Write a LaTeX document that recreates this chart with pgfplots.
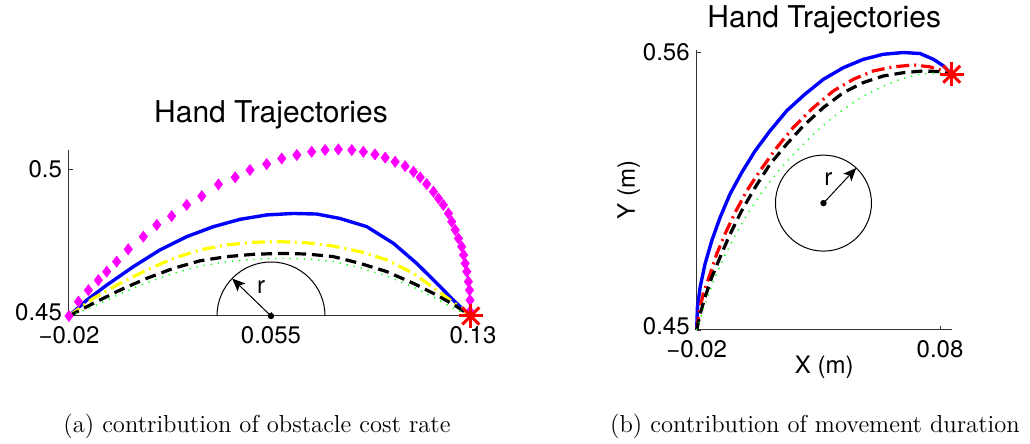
\documentclass[border=0pt]{standalone}
\usepackage{pgfplots}
\pgfplotsset{compat=1.18}
\usepackage{fontspec}
\newfontfamily\heros{TeX Gyre Heros}
\usetikzlibrary{arrows.meta,calc}
\definecolor{mblue}{rgb}{0,0,1}
\definecolor{myellow}{rgb}{1,1,0}
\definecolor{mgreen}{rgb}{0,1,0}
\definecolor{mmag}{rgb}{1,0,1}
\definecolor{mred}{rgb}{1,0,0}
\pgfplotsset{
  mstyle/.style={
    scale only axis, clip=false, scaled ticks=false,
    axis lines=left, axis line style={-, black!80, line width=0.5pt},
    tick align=inside, major tick length=2pt,
    tick style={black!80, line width=0.4pt},
    ticklabel style={font=\heros\fontsize{12}{14}\selectfont},
    xticklabel style={yshift=-1.5pt},
    label style={font=\heros\fontsize{12}{14}\selectfont},
    title style={font=\heros\fontsize{15}{18}\selectfont, at={(0.5,1)}, anchor=base},
  },
  blueline/.style={mblue, line width=1.7pt, no markers},
  dashdot/.style={line width=1.6pt, no markers, dash pattern=on 6.5pt off 2.5pt on 1pt off 2.5pt},
  blackdash/.style={black, line width=1.6pt, no markers, dash pattern=on 5.5pt off 3pt},
  greendot/.style={mgreen, line width=0.7pt, no markers, dash pattern=on 0.6pt off 3pt},
}
\begin{document}
\begin{tikzpicture}
\path[use as bounding box] (0,0) rectangle (515pt,222pt);
% ---------------- left ----------------
\begin{axis}[mstyle, at={(34.5pt,64pt)}, anchor=south west,
  width=202pt, height=83pt,
  xmin=-0.02, xmax=0.13, ymin=0.45, ymax=0.5065,
  xtick={-0.02,0.055,0.13}, xticklabels={−0.02,0.055,0.13},
  ytick={0.45,0.5}, yticklabels={\raisebox{4.5pt}{0.45},0.5},
  title={Hand Trajectories}, title style={yshift=8pt}]
\coordinate (c1) at (axis cs:0.055,0.45);
\addplot[blueline] coordinates {
(-0.02,0.45) (-0.0134,0.4554) (-0.0060,0.4605) (0.0039,0.4668) (0.0138,0.4725)
(0.0237,0.4770) (0.0336,0.4804) (0.0435,0.4829) (0.0534,0.4844) (0.0633,0.4849)
(0.0720,0.4847) (0.0806,0.4832) (0.0906,0.4804) (0.1005,0.4747) (0.1091,0.4679)
(0.1166,0.4611) (0.1227,0.4554) (0.1271,0.4515) (0.1292,0.45)};
\addplot[dashdot, myellow] coordinates {
(-0.02,0.45) (-0.0110,0.4560) (-0.0011,0.4611) (0.0088,0.4656) (0.0187,0.4696)
(0.0287,0.4725) (0.0386,0.4742) (0.0485,0.4751) (0.0584,0.4753) (0.0683,0.4749)
(0.0782,0.4738) (0.0881,0.4719) (0.0980,0.4691) (0.1079,0.4645) (0.1166,0.4588)
(0.1240,0.4537) (0.1292,0.45)};
\addplot[blackdash] coordinates {
(-0.02,0.45) (-0.0110,0.4543) (-0.0011,0.4588) (0.0088,0.4628) (0.0187,0.4662)
(0.0287,0.4688) (0.0386,0.4702) (0.0485,0.4710) (0.0584,0.4713) (0.0683,0.4711)
(0.0782,0.4702) (0.0881,0.4679) (0.0980,0.4651) (0.1079,0.4611) (0.1166,0.4571)
(0.1240,0.4532) (0.1292,0.45)};
\addplot[greendot] coordinates {
(-0.02,0.45) (-0.0110,0.4532) (-0.0011,0.4575) (0.0088,0.4613) (0.0187,0.4645)
(0.0287,0.4670) (0.0386,0.4685) (0.0485,0.4693) (0.0584,0.4696) (0.0683,0.4694)
(0.0782,0.4685) (0.0881,0.4664) (0.0980,0.4636) (0.1079,0.4598) (0.1166,0.4558)
(0.1240,0.4520) (0.1292,0.45)};
\addplot[only marks, mark=diamond*, mark size=2.7pt, mmag, mark options={draw=mmag, fill=mmag}] coordinates {
(-0.02,0.45) (-0.0165,0.4549) (-0.0128,0.4588) (-0.0091,0.4622) (-0.0060,0.4651)
(-0.0023,0.4685) (0.0020,0.4727) (0.0076,0.4770) (0.0126,0.4810) (0.0181,0.4840)
(0.0237,0.4878) (0.0293,0.4908) (0.0355,0.4948) (0.0417,0.4972) (0.0472,0.4997)
(0.0534,0.5017) (0.0590,0.5036) (0.0646,0.5048) (0.0701,0.5059) (0.0751,0.5065)
(0.0800,0.5067) (0.0850,0.5065) (0.0893,0.5059) (0.0936,0.5050) (0.0974,0.5039)
(0.1011,0.5025) (0.1048,0.5010) (0.1079,0.4991) (0.1104,0.4972) (0.1128,0.4949)
(0.1153,0.4923) (0.1172,0.4900) (0.1190,0.4878) (0.1209,0.4849) (0.1221,0.4821)
(0.1234,0.4793) (0.1246,0.4764) (0.1258,0.4736) (0.1265,0.4708) (0.1271,0.4679)
(0.1277,0.4651) (0.1283,0.4617) (0.1287,0.4588) (0.1289,0.4554) (0.1289,0.4515)
(0.1292,0.4500)};
\addplot[only marks, mark=+, mark size=6pt, mred, mark options={line width=1.5pt}] coordinates {(0.1292,0.45)};
\addplot[only marks, mark=x, mark size=6pt, mred, mark options={line width=1.5pt}] coordinates {(0.1292,0.45)};
\fill[black] (axis cs:0.055,0.45) circle[radius=1.6pt];
\draw[black, line width=0.5pt, -{Stealth[length=6.5pt,width=5.5pt,inset=1.5pt]}] (axis cs:0.055,0.45) -- ++(136:27pt);
\node[font=\heros\fontsize{12}{14}\selectfont] at ($(axis cs:0.055,0.45)+(-5pt,14.7pt)$) {r};
\end{axis}
\draw[black, line width=0.5pt] ([xshift=27pt]c1) arc[start angle=0, end angle=180, radius=27pt];
% ---------------- right ----------------
\begin{axis}[mstyle, at={(348.35pt,57pt)}, anchor=south west,
  width=127.5pt, height=140pt,
  xmin=-0.02, xmax=0.0848, ymin=0.45, ymax=0.561,
  xtick={-0.02,0.08}, xticklabels={−0.02,0.08},
  ytick={0.45,0.56}, yticklabels={\raisebox{3.8pt}{0.45},0.56},
  title={Hand Trajectories}, title style={yshift=5pt},
  xlabel={X (m)}, xlabel style={at={(axis description cs:0.5,-0.157)}, anchor=base},
  ylabel={Y (m)}, ylabel style={at={(axis description cs:-0.267,0.5)}, anchor=center}]
\addplot[blueline] coordinates {
(-0.02,0.45) (-0.0197,0.4590) (-0.0186,0.4669) (-0.0166,0.4761) (-0.0138,0.4854)
(-0.0104,0.4946) (-0.0063,0.5039) (-0.0015,0.5124) (0.0040,0.5210) (0.0101,0.5289)
(0.0170,0.5369) (0.0245,0.5435) (0.0321,0.5494) (0.0403,0.5540) (0.0485,0.5573)
(0.0567,0.5593) (0.0649,0.5600) (0.0718,0.5596) (0.0773,0.5573) (0.0814,0.5547)
(0.0841,0.5520)};
\addplot[dashdot, mred] coordinates {
(-0.02,0.45) (-0.0189,0.4577) (-0.0173,0.4643) (-0.0145,0.4722) (-0.0118,0.4801)
(-0.0084,0.4880) (-0.0042,0.4966) (0.0006,0.5052) (0.0060,0.5131) (0.0129,0.5223)
(0.0197,0.5303) (0.0280,0.5382) (0.0362,0.5448) (0.0444,0.5494) (0.0526,0.5527)
(0.0608,0.5543) (0.0691,0.5551) (0.0759,0.5543) (0.0814,0.5527) (0.0841,0.5514)};
\addplot[blackdash] coordinates {
(-0.02,0.45) (-0.0186,0.4563) (-0.0166,0.4629) (-0.0138,0.4709) (-0.0104,0.4788)
(-0.0063,0.4880) (-0.0015,0.4973) (0.0040,0.5065) (0.0101,0.5157) (0.0170,0.5237)
(0.0238,0.5309) (0.0321,0.5382) (0.0403,0.5441) (0.0485,0.5481) (0.0567,0.5507)
(0.0649,0.5520) (0.0732,0.5527) (0.0800,0.5524) (0.0841,0.5514)};
\addplot[greendot] coordinates {
(-0.02,0.45) (-0.0179,0.4563) (-0.0156,0.4629) (-0.0125,0.4709) (-0.0088,0.4788)
(-0.0042,0.4874) (0.0008,0.4959) (0.0067,0.5045) (0.0136,0.5131) (0.0211,0.5210)
(0.0293,0.5289) (0.0375,0.5355) (0.0464,0.5415) (0.0553,0.5461) (0.0636,0.5494)
(0.0718,0.5514) (0.0786,0.5520) (0.0841,0.5514)};
\addplot[only marks, mark=+, mark size=6pt, mred, mark options={line width=1.5pt}] coordinates {(0.0848,0.5514)};
\addplot[only marks, mark=x, mark size=6pt, mred, mark options={line width=1.5pt}] coordinates {(0.0848,0.5514)};
\draw[black, line width=0.5pt] (axis cs:0.0321,0.5003) circle[radius=24pt];
\fill[black] (axis cs:0.0321,0.5003) circle[radius=1.6pt];
\draw[black, line width=0.5pt, -{Stealth[length=6.5pt,width=5.5pt,inset=1.5pt]}] (axis cs:0.0321,0.5003) -- ++(47:24pt);
\node[font=\heros\fontsize{12}{14}\selectfont] at ($(axis cs:0.0321,0.5003)+(2.5pt,12pt)$) {r};
\end{axis}
% captions
\node[anchor=base, font=\fontsize{12.3}{14}\selectfont] at (128.5pt,5.5pt) {(a) contribution of obstacle cost rate};
\node[anchor=base, font=\fontsize{12.3}{14}\selectfont] at (407.5pt,5.5pt) {(b) contribution of movement duration};
\end{tikzpicture}
\end{document}
